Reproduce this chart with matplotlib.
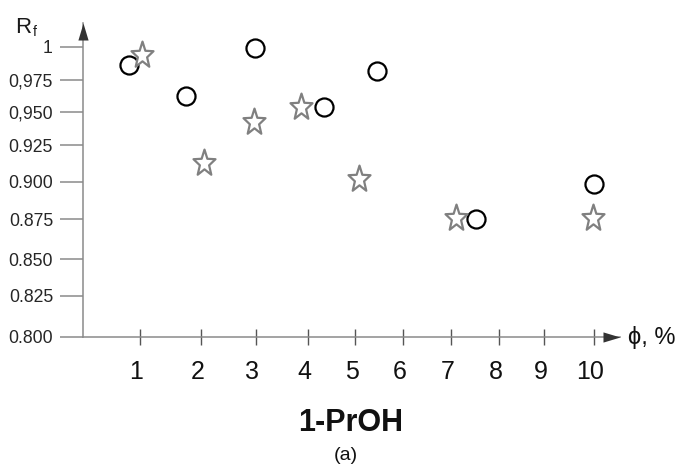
import numpy as np
import matplotlib
matplotlib.use("Agg")
import matplotlib.pyplot as plt
from matplotlib.path import Path
from matplotlib.scale import FuncScale
import matplotlib.transforms as mtransforms

plt.rcParams['font.family'] = ['Liberation Sans', 'DejaVu Sans']

# ---------------- data ----------------
phi_ticks = [1, 2, 3, 4, 5, 6, 7, 8, 9, 10]
phi_tick_labels = ['1', '2', '3', '4', '5', '6', '7', '8', '9', '10']
rf_ticks = [0.800, 0.825, 0.850, 0.875, 0.900, 0.925, 0.950, 0.975, 1.0]
rf_tick_labels = ['0.800', '0.825', '0.850', '0.875', '0.900', '0.925',
                  '0,950', '0,975', '1']

circle_phi = [0.81, 1.75, 2.98, 4.35, 5.45, 7.52, 10.01]
circle_rf = [0.986, 0.962, 0.999, 0.9535, 0.982, 0.875, 0.8985]

star_phi = [1.04, 2.06, 2.96, 3.88, 5.08, 7.10, 9.98]
star_rf = [0.994, 0.9125, 0.9425, 0.9535, 0.9015, 0.876, 0.8755]

# ---------------- non-uniform hand-drawn axis scales ----------------
x_knot_val = [0, 1, 2, 3, 4, 5, 6, 7, 8, 9, 10, 11]
x_knot_pos = [83, 140, 201, 256, 307.7, 355.3, 402.7, 451, 499.3, 544.3, 593.7, 643]
y_knot_val = [0.75, 0.800, 0.825, 0.850, 0.875, 0.900, 0.925, 0.950, 0.975, 1.0, 1.05]
y_knot_pos = [465 - p for p in [416.7, 336.7, 296, 259, 219, 181.7, 145, 111.7, 80, 46.7, -19.3]]


def piecewise(v, xp, fp):
    v = np.asarray(v, dtype=float)
    xp = np.asarray(xp, dtype=float)
    fp = np.asarray(fp, dtype=float)
    out = np.interp(v, xp, fp)
    lo_slope = (fp[1] - fp[0]) / (xp[1] - xp[0])
    hi_slope = (fp[-1] - fp[-2]) / (xp[-1] - xp[-2])
    out = np.where(v < xp[0], fp[0] + (v - xp[0]) * lo_slope, out)
    out = np.where(v > xp[-1], fp[-1] + (v - xp[-1]) * hi_slope, out)
    return out


def xf(v):
    return piecewise(v, x_knot_val, x_knot_pos)


def xi(v):
    return piecewise(v, x_knot_pos, x_knot_val)


def yf(v):
    return piecewise(v, y_knot_val, y_knot_pos)


def yi(v):
    return piecewise(v, y_knot_pos, y_knot_val)


W, H = 680, 465
fig = plt.figure(figsize=(W / 100, H / 100), dpi=100)
left_px, right_px, bottom_px, top_px = 83, 620, 336.7, 23
ax = fig.add_axes([left_px / W, 1 - bottom_px / H,
                   (right_px - left_px) / W, (bottom_px - top_px) / H])

ax.set_xscale(FuncScale(ax.xaxis, (xf, xi)))
ax.set_yscale(FuncScale(ax.yaxis, (yf, yi)))
ax.set_xlim(float(xi(left_px)), float(xi(right_px)))
ax.set_ylim(float(yi(H - bottom_px)), float(yi(H - top_px)))

axis_gray = '#8a8a8a'
for s in ['top', 'right']:
    ax.spines[s].set_visible(False)
for s in ['left', 'bottom']:
    ax.spines[s].set_color(axis_gray)
    ax.spines[s].set_linewidth(1.1)

ax.set_xticks(phi_ticks)
ax.set_xticklabels(phi_tick_labels)
ax.set_yticks(rf_ticks)
ax.set_yticklabels(rf_tick_labels)
ax.minorticks_off()

ax.tick_params(axis='x', direction='inout', length=12.2, width=1.0,
               colors='#555555', labelcolor='#111111', labelsize=18, pad=11)
ax.tick_params(axis='y', direction='out', length=16.6, width=1.1,
               colors=axis_gray, labelcolor='#262626', labelsize=12.7, pad=5)

offset = mtransforms.ScaledTranslation(-3.5 / 100, 0, fig.dpi_scale_trans)
for lab in ax.get_xticklabels():
    lab.set_transform(lab.get_transform() + offset)

# markers
t = np.linspace(0, 2 * np.pi, 11)[:-1] + np.pi / 2
r = np.where(np.arange(10) % 2 == 0, 1.0, 0.42)
star_verts = np.column_stack([r * np.cos(t), 1.2 * r * np.sin(t)])
star_verts = np.vstack([star_verts, star_verts[:1]])
star_path = Path(star_verts, closed=True)

ax.plot(circle_phi, circle_rf, linestyle='none', marker='o', markersize=13,
        markeredgewidth=1.6, markeredgecolor='black', markerfacecolor='white',
        clip_on=False, zorder=3)
ax.plot(star_phi, star_rf, linestyle='none', marker=star_path, markersize=20,
        markeredgewidth=1.6, markeredgecolor='#808080', markerfacecolor='white',
        clip_on=False, zorder=3)

# arrowheads
right_arrow = Path([(-1, -0.3), (0, 0), (-1, 0.3), (-1, -0.3)], closed=True)
up_arrow = Path([(-0.3, -1), (0, 0), (0.3, -1), (-0.3, -1)], closed=True)
ax.plot([1], [0], marker=right_arrow, markersize=24.5, color='#333333',
        markeredgewidth=0, transform=ax.transAxes, clip_on=False, zorder=4)
ax.plot([0], [1], marker=up_arrow, markersize=24.5, color='#333333',
        markeredgewidth=0, transform=ax.transAxes, clip_on=False, zorder=4)

# texts
def fx(px):
    return px / W


def fy(py):
    return 1 - py / H


fig.text(fx(15), fy(33), 'R', fontsize=16, color='#1a1a1a', ha='left', va='baseline')
fig.text(fx(32.5), fy(35.5), 'f', fontsize=10, color='#1a1a1a', ha='left', va='baseline')
fig.text(fx(628), fy(337.7), 'ϕ, %', fontsize=17, color='#111111', ha='left', va='center')
fig.text(fx(351), fy(430.7), '1-PrOH', fontsize=22, fontweight='bold', color='#111111',
         ha='center', va='baseline')
fig.text(fx(346), fy(460), '(a)', fontsize=14, color='#111111', ha='center', va='baseline')

fig.savefig('out.png', dpi=100)
